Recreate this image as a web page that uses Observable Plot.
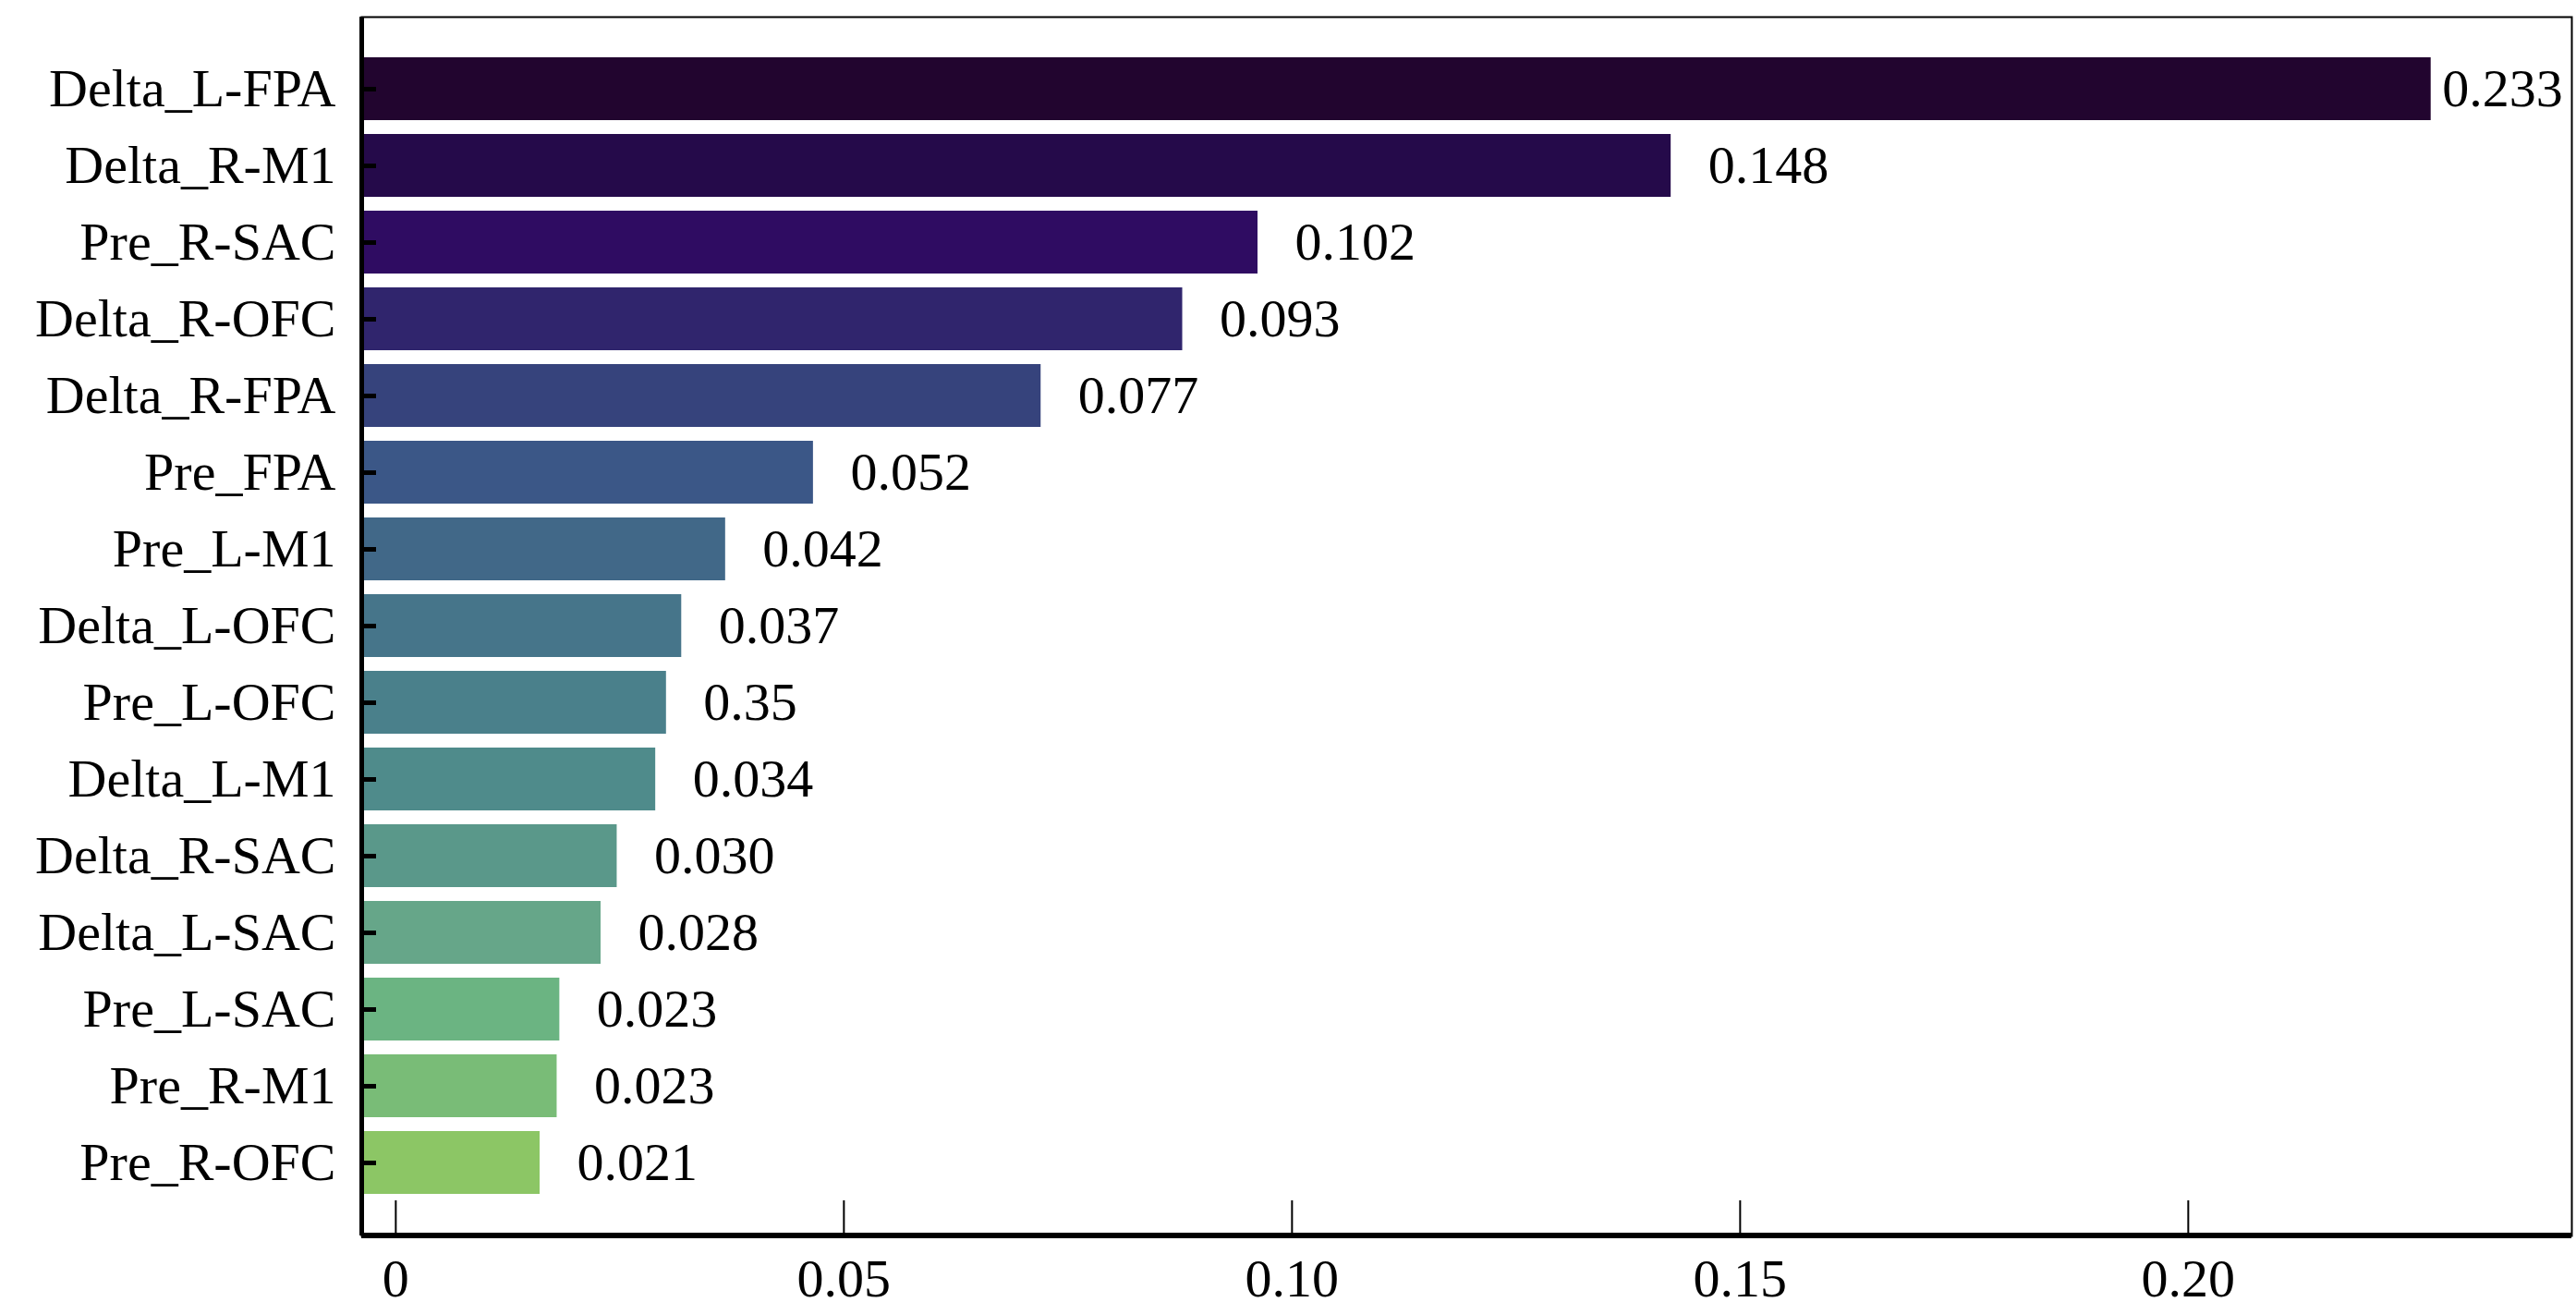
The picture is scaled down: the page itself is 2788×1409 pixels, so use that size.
<!DOCTYPE html>
<html><head><meta charset="utf-8">
<script src="https://cdn.jsdelivr.net/npm/d3@7"></script>
<script src="https://cdn.jsdelivr.net/npm/@observablehq/plot@0.6"></script>
<style>body{margin:0;background:#fff}</style>
</head><body><div id="chart"></div>
<script>
const features = ["Delta_L-FPA","Delta_R-M1","Pre_R-SAC","Delta_R-OFC","Delta_R-FPA","Pre_FPA","Pre_L-M1","Delta_L-OFC","Pre_L-OFC","Delta_L-M1","Delta_R-SAC","Delta_L-SAC","Pre_L-SAC","Pre_R-M1","Pre_R-OFC"];
const values = [0.2271,0.1423,0.0962,0.0878,0.0720,0.0466,0.0368,0.0319,0.0302,0.0290,0.0247,0.0229,0.0183,0.0180,0.0161];
const labels = ["0.233","0.148","0.102","0.093","0.077","0.052","0.042","0.037","0.35","0.034","0.030","0.028","0.023","0.023","0.021"];
const colors = ["#22052f","#250a4a","#2f0c62","#30256d","#36437c","#3b5787","#416888","#46758a","#4a808b","#4f8b8b","#5a988a","#66a689","#6bb482","#79bc77","#8cc665"];
const xTicks = [0,0.05,0.10,0.15,0.20];
const xTickLabels = ["0","0.05","0.10","0.15","0.20"];

const xmin = -0.0038, xmax = 0.2428;
const data = features.map((f,i)=>({f, v: values[i], label: labels[i], color: colors[i], i}));
const font = "'Liberation Serif','Times New Roman',serif";
const W = 2788, H = 1409, mL = 391, mR = 5, mT = 18, mB = 72;
const chart = Plot.plot({
  width: W, height: H,
  marginLeft: mL, marginRight: mR, marginTop: mT, marginBottom: mB,
  style: {fontFamily: font, fontSize: "58px", color: "#000", background: "#fff", overflow: "visible"},
  x: {domain: [xmin, xmax], label: null},
  y: {domain: features, paddingInner: 0.18, paddingOuter: 0.45, label: null},
  marks: [
    Plot.barX(data, {x1: xmin, x2: "v", y: "f", fill: "color"}),
    Plot.text(data.filter(d=>d.i>0), {x: "v", y: "f", text: "label", dx: 40, textAnchor: "start", fill: "#000"}),
    Plot.text(data.filter(d=>d.i===0), {x: "v", y: "f", text: "label", dx: 12, textAnchor: "start", fill: "#000"}),
    Plot.frame({stroke: "#000", strokeWidth: 2}),
    Plot.ruleX([xmin], {stroke: "#000", strokeWidth: 5}),
    Plot.axisX({ticks: xTicks, tickFormat: d=>xTickLabels[xTicks.indexOf(d)], tickSize: -38, tickPadding: 62, strokeWidth: 2}),
    Plot.axisY({tickSize: -16, tickPadding: 44, strokeWidth: 5})
  ]
});
document.getElementById("chart").appendChild(chart);
d3.select(chart).append("line")
  .attr("x1", mL).attr("x2", W - mR).attr("y1", H - mB).attr("y2", H - mB)
  .attr("stroke", "#000").attr("stroke-width", 6);
</script></body></html>
